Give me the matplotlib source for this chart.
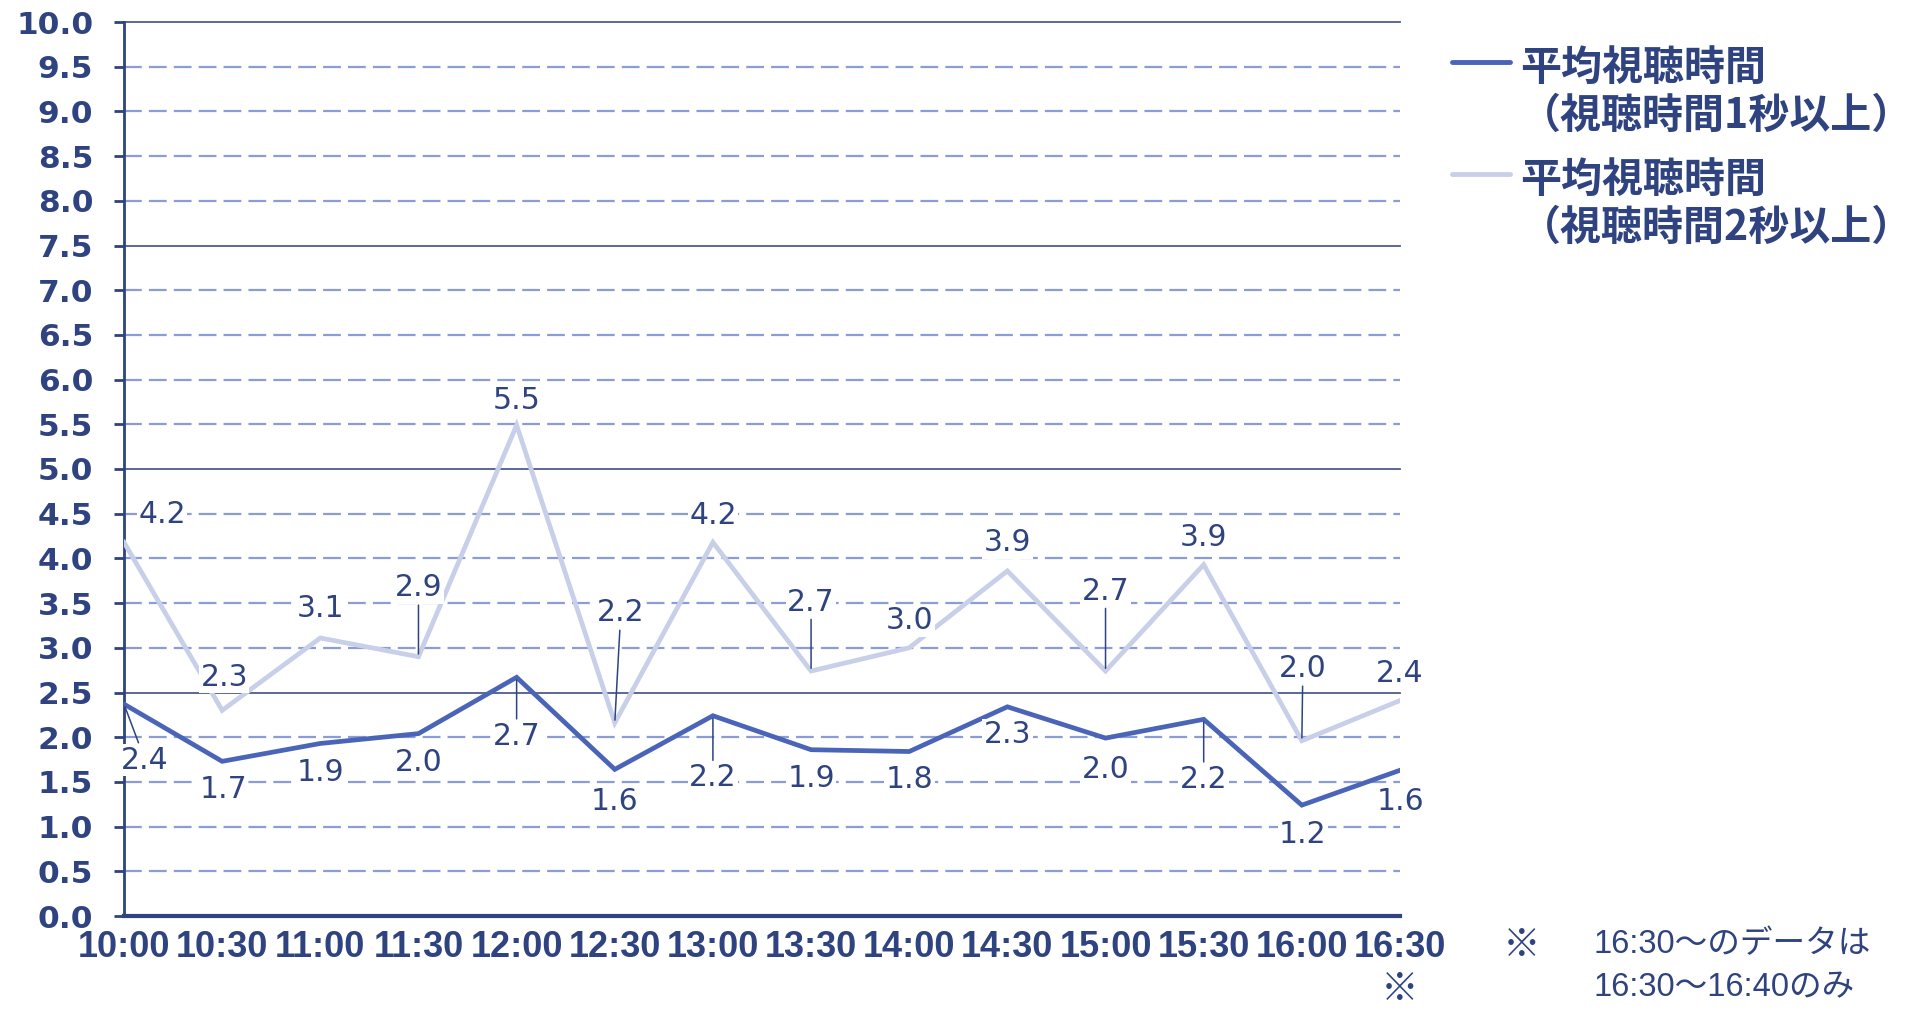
import matplotlib
matplotlib.use("Agg")
import matplotlib.pyplot as plt
from matplotlib.lines import Line2D

# data
times = ["10:00", "10:30", "11:00", "11:30", "12:00", "12:30", "13:00",
         "13:30", "14:00", "14:30", "15:00", "15:30", "16:00", "16:30"]
avg_1s = [2.37, 1.73, 1.93, 2.04, 2.67, 1.64, 2.24, 1.86, 1.84, 2.34, 1.99, 2.20, 1.24, 1.63]
avg_2s = [4.18, 2.30, 3.11, 2.90, 5.49, 2.16, 4.18, 2.74, 3.00, 3.86, 2.74, 3.93, 1.96, 2.41]
legend_1s = ["平均視聴時間", "（視聴時間1秒以上）"]
legend_2s = ["平均視聴時間", "（視聴時間2秒以上）"]
note_lines = ["16:30～のデータは", "16:30～16:40のみ"]
y_ticks = [i * 0.5 for i in range(21)]

# label offsets (pixels) - layout only
off_1s = [(21, -56), (1, -28), (0, -29), (0, -29), (0, -59), (0, -32), (0, -62),
          (0, -29), (0, -28), (0, -28), (0, -31), (0, -60), (1, -29), (0, -31)]
off_2s = [(38, 28), (2, 33), (0, 29), (0, 69), (0, 25), (6, 110), (0, 27),
          (0, 69), (0, 27), (0, 28), (0, 80), (0, 27), (1, 72), (0, 27)]

navy = "#2E437F"
dark_line = "#4A64B8"
light_line = "#C8CFE8"
dash_grid = "#8C9CD6"
solid_grid = "#4F5C8C"

W, H = 1921, 1011
fx = lambda px: px / W
fy = lambda py: 1 - py / H

fig = plt.figure(figsize=(W / 100, H / 100), dpi=100)
ax = fig.add_axes([fx(124), fy(916), (1400 - 124) / W, (916 - 22) / H])

x = list(range(len(times)))

# gridlines
for v in y_ticks[1:]:
    if abs(v / 2.5 - round(v / 2.5)) < 1e-9:
        ax.axhline(v, color=solid_grid, lw=1.3, zorder=1, clip_on=False)
    else:
        ax.axhline(v, color=dash_grid, lw=1.6, ls=(0, (8, 3.2)), zorder=1)

ax.plot(x, avg_2s, color=light_line, lw=3.4, zorder=3, solid_joinstyle="miter")
ax.plot(x, avg_1s, color=dark_line, lw=3.4, zorder=4, solid_joinstyle="miter")

def labels(vals, offs):
    for i, (v, (dx, dy)) in enumerate(zip(vals, offs)):
        lead = abs(dy) > 40 or abs(dx) > 15 and dy < 0
        ax.annotate(f"{v:.1f}", (i, v), xytext=(dx, dy), textcoords="offset pixels",
                    ha="center", va="center", fontsize=21.5, color=navy,
                    family="DejaVu Sans", zorder=6, annotation_clip=False,
                    bbox=dict(boxstyle="square,pad=0.05", fc="white", ec="none"),
                    arrowprops=dict(arrowstyle="-", color=navy, lw=1.1,
                                    shrinkA=1, shrinkB=2) if lead else None)

labels(avg_2s, off_2s)
labels(avg_1s, off_1s)

ax.set_xlim(0, len(times) - 1)
ax.set_ylim(0, 10)
ax.set_yticks(y_ticks)
ax.set_yticklabels([f"{v:.1f}" for v in y_ticks], fontsize=22.5, fontweight="bold",
                   family="DejaVu Sans", color=navy)
ax.set_xticks(x)
ax.set_xticklabels(times, fontsize=26, fontweight="bold",
                   family="Liberation Sans", color=navy)
ax.tick_params(axis="y", length=7.2, width=2, color=navy, pad=15)
ax.tick_params(axis="x", length=0, pad=10)

for s in ["top", "right"]:
    ax.spines[s].set_visible(False)
ax.spines["left"].set_color(navy)
ax.spines["left"].set_linewidth(2)
ax.spines["bottom"].set_color(navy)
ax.spines["bottom"].set_linewidth(3)

# ※ under last tick
fig.text(fx(1400), fy(989), "※", ha="center", va="center", fontsize=27,
         fontweight="bold", family=["Noto Sans CJK JP"], color=navy)

# legend
jp = ["Noto Sans CJK JP", "DejaVu Sans"]
for (col, lines, ly) in [(dark_line, legend_1s, 62), (light_line, legend_2s, 174)]:
    fig.add_artist(Line2D([fx(1452), fx(1510)], [fy(ly), fy(ly)], color=col, lw=3.5,
                          solid_capstyle="round", transform=fig.transFigure))
    fig.text(fx(1520), fy(ly + 6), lines[0], ha="left", va="center", fontsize=29.5,
             fontweight="bold", family=jp, color=navy)
    fig.text(fx(1520), fy(ly + 54), lines[1], ha="left", va="center", fontsize=29.5,
             fontweight="bold", family=jp, color=navy)

# note
fig.text(fx(1522), fy(945), "※", ha="center", va="center", fontsize=27,
         family=jp, color=navy)
fig.text(fx(1593), fy(945), note_lines[0], ha="left", va="center", fontsize=23.5,
         family=["Liberation Sans", "Noto Sans CJK JP"], color=navy)
fig.text(fx(1593), fy(988), note_lines[1], ha="left", va="center", fontsize=23.5,
         family=["Liberation Sans", "Noto Sans CJK JP"], color=navy)

fig.savefig("out.png", dpi=100, facecolor="white")
